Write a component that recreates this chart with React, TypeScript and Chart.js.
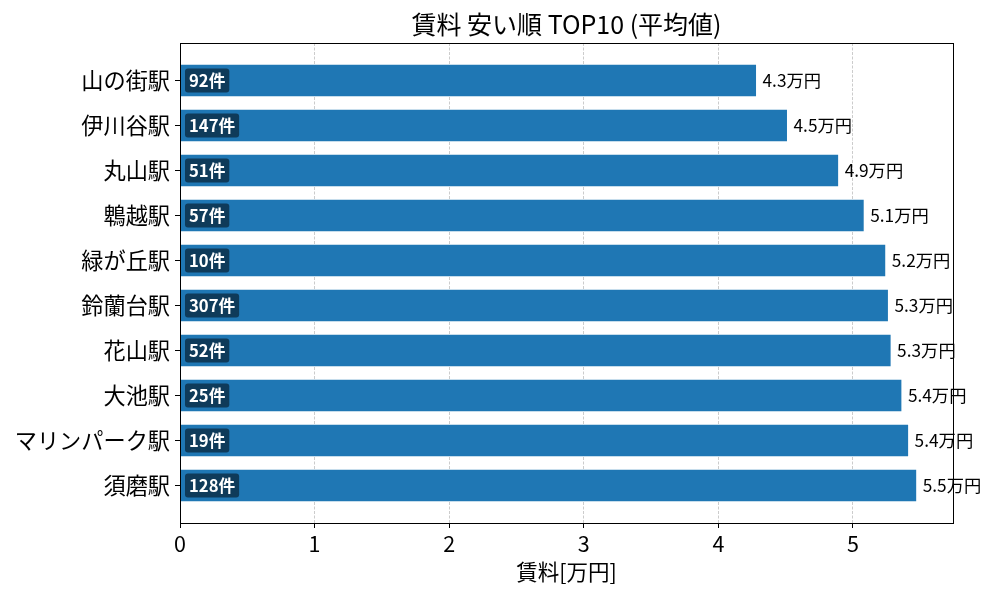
import React, { useEffect, useRef } from "react";
import { Chart, registerables } from "chart.js";

Chart.register(...registerables);

const stations = [
  "山の街駅",
  "伊川谷駅",
  "丸山駅",
  "鵯越駅",
  "緑が丘駅",
  "鈴蘭台駅",
  "花山駅",
  "大池駅",
  "マリンパーク駅",
  "須磨駅",
];
const rents = [4.28, 4.51, 4.89, 5.08, 5.24, 5.26, 5.28, 5.36, 5.41, 5.47];
const counts = [92, 147, 51, 57, 10, 307, 52, 25, 19, 128];
const xTicks = [0, 1, 2, 3, 4, 5];

const TITLE = "賃料 安い順 TOP10 (平均値)";
const X_TITLE = "賃料[万円]";
const FONT = "'Noto Sans CJK JP', 'Noto Sans', sans-serif";
const BAR_COLOR = "#1f77b4";
const BADGE_COLOR = "#0f3b5a";
const BAR_HEIGHT = 0.7;

export default function App() {
  const ref = useRef<HTMLCanvasElement | null>(null);

  useEffect(() => {
    if (!ref.current) return;
    const n = stations.length;
    const lo = -BAR_HEIGHT / 2;
    const hi = n - 1 + BAR_HEIGHT / 2;
    const m = (hi - lo) * 0.05;
    const xMax = Math.max(...rents) * 1.05;

    const annotate = {
      id: "annotate",
      afterDatasetsDraw(chart: any) {
        const ctx = chart.ctx;
        const meta = chart.getDatasetMeta(0);
        const area = chart.chartArea;
        ctx.save();
        meta.data.forEach((bar: any, i: number) => {
          const y = bar.y;
          // value label
          ctx.font = `17.3px ${FONT}`;
          ctx.fillStyle = "#000";
          ctx.textAlign = "left";
          ctx.textBaseline = "middle";
          ctx.fillText(`${rents[i].toFixed(1)}万円`, bar.x + 6.5, y - 0.5);
          // count badge
          const txt = `${counts[i]}件`;
          ctx.font = `bold 16.67px ${FONT}`;
          const w = ctx.measureText(txt).width;
          const bx = area.left + 5;
          const bh = 24;
          const bw = w + 8;
          ctx.fillStyle = BADGE_COLOR;
          ctx.beginPath();
          (ctx as any).roundRect(bx, y - bh / 2, bw, bh, 3);
          ctx.fill();
          ctx.fillStyle = "#fff";
          ctx.fillText(txt, bx + 4, y + 0.5);
        });
        ctx.restore();
      },
      afterDraw(chart: any) {
        const ctx = chart.ctx;
        const a = chart.chartArea;
        ctx.save();
        ctx.strokeStyle = "#000";
        ctx.lineWidth = 1;
        ctx.strokeRect(a.left + 0.5, a.top + 0.5, a.right - a.left, a.bottom - a.top);
        ctx.font = `25px ${FONT}`;
        ctx.fillStyle = "#000";
        ctx.textAlign = "center";
        ctx.textBaseline = "middle";
        ctx.fillText(TITLE, (a.left + a.right) / 2, 24);
        ctx.restore();
      },
    };

    const chart = new Chart(ref.current, {
      type: "bar",
      data: {
        datasets: [
          {
            data: rents.map((v, i) => ({ x: v, y: i })),
            backgroundColor: BAR_COLOR,
            borderWidth: 0,
            categoryPercentage: 1,
            barPercentage: BAR_HEIGHT,
          },
        ],
      },
      options: {
        indexAxis: "y",
        animation: false,
        responsive: false,
        devicePixelRatio: 1,
        layout: { padding: { top: 43, right: 47, left: 0, bottom: 0 } },
        plugins: {
          legend: { display: false },
          tooltip: { enabled: false },
          title: { display: false },
        },
        scales: {
          y: {
            type: "linear",
            reverse: true,
            offset: false,
            min: lo - m,
            max: hi + m,
            afterBuildTicks(scale: any) {
              scale.ticks = stations.map((_, i) => ({ value: i }));
            },
            afterFit(scale: any) {
              scale.width = 180;
            },
            ticks: {
              autoSkip: false,
              callback: (v: any) => stations[v as number] ?? "",
              color: "#000",
              font: { family: FONT, size: 22.2 },
              padding: 5,
            },
            grid: {
              offset: false,
              drawOnChartArea: false,
              drawTicks: true,
              tickLength: 5,
              tickColor: "#000",
            },
            border: { display: true, color: "#000", width: 1 },
          },
          x: {
            type: "linear",
            min: 0,
            max: xMax,
            afterBuildTicks(scale: any) {
              scale.ticks = xTicks.map((v) => ({ value: v }));
            },
            afterFit(scale: any) {
              scale.height = 77;
            },
            ticks: {
              color: "#000",
              font: { family: FONT, size: 21.5 },
              padding: 3,
              callback: (v: any) => String(v),
            },
            grid: {
              color: "#cccccc",
              lineWidth: 1,
              drawTicks: true,
              tickLength: 5,
              tickColor: "#000",
            },
            border: { display: true, color: "#000", width: 1, dash: [3, 1.5] },
            title: {
              display: true,
              text: X_TITLE,
              color: "#000",
              font: { family: FONT, size: 21.5 },
              padding: { top: 0, bottom: 15 },
            },
          },
        },
      },
      plugins: [annotate],
    } as any);
    return () => chart.destroy();
  }, []);

  return (
    <div style={{ position: "fixed", left: 0, top: 0, width: 1000, height: 600, background: "#fff" }}>
      <canvas ref={ref} width={1000} height={600} style={{ width: 1000, height: 600, display: "block" }} />
    </div>
  );
}
